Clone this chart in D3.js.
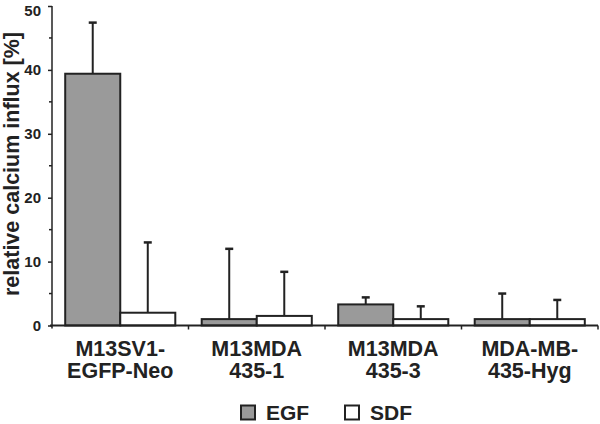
<!DOCTYPE html>
<html>
<head>
<meta charset="utf-8">
<script src="https://cdn.jsdelivr.net/npm/d3@7"></script>
<style>
  html, body { margin: 0; padding: 0; background: #fff; }
  svg { display: block; }
  text { font-family: "Liberation Sans", Arial, Helvetica, sans-serif; font-weight: bold; fill: #222; }
</style>
</head>
<body>
<div id="chart"></div>
<script>
// ---- data ----
const categories = ["M13SV1-EGFP-Neo", "M13MDA 435-1", "M13MDA 435-3", "MDA-MB-435-Hyg"];
const categoryLines = [["M13SV1-", "EGFP-Neo"], ["M13MDA", "435-1"], ["M13MDA", "435-3"], ["MDA-MB-", "435-Hyg"]];
const seriesNames = ["EGF", "SDF"];
const egfValues = [39.4, 1.0, 3.3, 1.0];
const egfErrorTop = [47.4, 12.0, 4.4, 5.0];
const sdfValues = [2.0, 1.5, 1.0, 1.0];
const sdfErrorTop = [13.0, 8.4, 3.0, 4.0];
const yTicks = [0, 10, 20, 30, 40, 50];
const yMinorTicks = [5, 15, 25, 35, 45];
const yLabel = "relative calcium influx [%]";

const seriesColors = { EGF: "#9a9a9a", SDF: "#ffffff" };

const W = 600, H = 424;
const svg = d3.select("#chart").append("svg").attr("width", W).attr("height", H);

const x0 = d3.scaleBand().domain(categories).range([52, 598]).paddingInner(0).paddingOuter(0);
const x1 = d3.scaleBand().domain(seriesNames).range([0, x0.bandwidth()]).paddingInner(0).paddingOuter(0.24);
const y = d3.scaleLinear().domain([0, 50]).range([325.5, 6]);

const rows = [];
categories.forEach((c, i) => {
  rows.push({ cat: c, s: "EGF", v: egfValues[i], e: egfErrorTop[i] });
  rows.push({ cat: c, s: "SDF", v: sdfValues[i], e: sdfErrorTop[i] });
});

// error bars (behind bars)
const eb = svg.append("g").attr("stroke", "#222").attr("stroke-width", 2);
rows.forEach(d => {
  const cx = x0(d.cat) + x1(d.s) + x1.bandwidth() / 2;
  eb.append("line").attr("x1", cx).attr("x2", cx).attr("y1", y(d.v)).attr("y2", y(d.e));
  eb.append("line").attr("x1", cx - 4).attr("x2", cx + 4).attr("y1", y(d.e)).attr("y2", y(d.e)).attr("stroke-width", 2.5);
});

// bars
svg.append("g").selectAll("rect").data(rows).join("rect")
  .attr("x", d => x0(d.cat) + x1(d.s))
  .attr("y", d => y(d.v))
  .attr("width", x1.bandwidth())
  .attr("height", d => y(0) - y(d.v))
  .attr("fill", d => seriesColors[d.s])
  .attr("stroke", "#222")
  .attr("stroke-width", 2);

// y axis
const yAxis = svg.append("g").attr("transform", "translate(52,0)")
  .call(d3.axisLeft(y).tickValues(yTicks).tickSize(4).tickPadding(7).tickFormat(d3.format("d")));
yAxis.select(".domain").attr("stroke", "#222").attr("stroke-width", 1.5).attr("d", `M0,${y(50)}V${y(0) + 3}`);
yAxis.selectAll(".tick line").attr("stroke", "#222").attr("stroke-width", 1.5);
yAxis.selectAll(".tick text").attr("font-size", 15).attr("font-family", "Liberation Sans, Arial, sans-serif").attr("font-weight", "bold").attr("fill", "#222")
  .attr("dy", d => d === 50 ? "0.6em" : "0.32em");
svg.append("g").selectAll("line").data(yMinorTicks).join("line")
  .attr("x1", 49).attr("x2", 52).attr("y1", d => y(d)).attr("y2", d => y(d))
  .attr("stroke", "#222").attr("stroke-width", 1.5);

// x axis
const xAxisG = svg.append("g").attr("stroke", "#222");
xAxisG.append("line").attr("x1", 50).attr("x2", 598).attr("y1", y(0)).attr("y2", y(0)).attr("stroke-width", 2);
const bounds = categories.map(c => x0(c) + x0.bandwidth());
xAxisG.selectAll("line.tk").data(bounds).join("line").attr("class", "tk")
  .attr("x1", d => d).attr("x2", d => d).attr("y1", y(0)).attr("y2", y(0) + 4).attr("stroke-width", 1.5);

// x labels
categories.forEach((c, i) => {
  const cx = x0(c) + x0.bandwidth() / 2;
  categoryLines[i].forEach((ln, j) => {
    svg.append("text").attr("text-anchor", "middle").attr("font-size", 21.5)
      .attr("x", cx).attr("y", 356 + j * 22).text(ln);
  });
});

// y label
svg.append("text")
  .attr("transform", "translate(19,164) rotate(-90)")
  .attr("text-anchor", "middle")
  .attr("font-size", 21.5)
  .text(yLabel);

// legend
const legendX = [241, 345];
seriesNames.forEach((s, i) => {
  svg.append("rect").attr("x", legendX[i]).attr("y", 405.5).attr("width", 14).attr("height", 14)
    .attr("fill", seriesColors[s]).attr("stroke", "#222").attr("stroke-width", 2);
  svg.append("text").attr("x", legendX[i] + 25).attr("y", 419.5).attr("font-size", 21).text(s);
});
</script>
</body>
</html>
